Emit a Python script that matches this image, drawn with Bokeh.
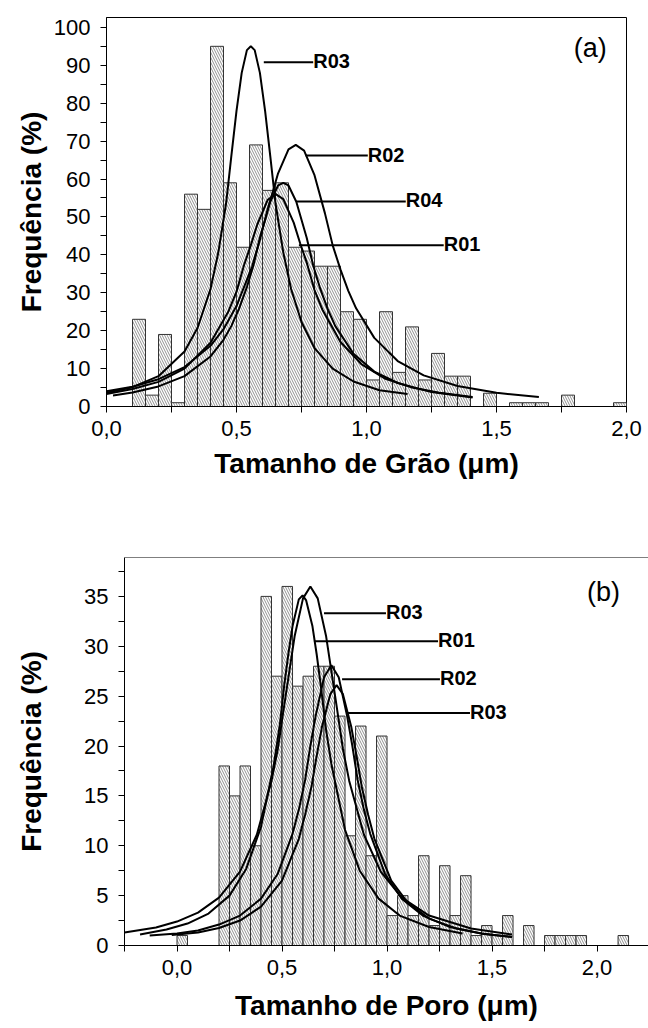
from bokeh.plotting import figure
from bokeh.models import Range1d, FixedTicker, CustomJSTickFormatter, Span
from bokeh.core.properties import value
from bokeh.embed import file_html
from bokeh.resources import INLINE

FONT = "Liberation Sans"
BIN_W = 0.05

# ---------------- (a) grain size ----------------
grain_bin_left = [0.10, 0.15, 0.20, 0.25, 0.30, 0.35, 0.40, 0.45, 0.50, 0.55,
                  0.60, 0.65, 0.70, 0.75, 0.80, 0.85, 0.90, 0.95, 1.00, 1.05,
                  1.10, 1.15, 1.20, 1.25, 1.30, 1.35, 1.45, 1.55, 1.60, 1.65,
                  1.75, 1.95]
grain_freq = [23, 3, 19, 1, 56, 52, 95, 59, 42, 69,
              57, 59, 42, 41, 37, 37, 25, 23, 7, 25,
              9, 21, 7, 14, 8, 8, 3.5, 1, 1, 1,
              3, 1]

grain_R03_x = [0.0, 0.1, 0.2, 0.3, 0.35, 0.4, 0.43, 0.46, 0.48, 0.5, 0.52, 0.54, 0.555,
               0.57, 0.59, 0.61, 0.63, 0.65, 0.68, 0.71, 0.75, 0.8, 0.87, 0.95, 1.05, 1.158]
grain_R03_y = [3.6, 5.1, 8.0, 14.5, 20.7, 31.0, 40.6, 53.6, 66.0, 78.0, 88.0, 94.0, 95.0,
               94.0, 88.0, 78.0, 66.0, 53.6, 40.6, 31.0, 22.3, 15.4, 10.0, 6.6, 4.3, 3.3]

grain_R02_x = [0.0, 0.1, 0.2, 0.3, 0.4, 0.45, 0.5, 0.56, 0.59, 0.62, 0.66, 0.7, 0.728,
               0.76, 0.8, 0.84, 0.87, 0.9, 0.93, 0.96, 1.03, 1.12, 1.22, 1.35, 1.5, 1.663]
grain_R02_y = [4.0, 5.2, 7.2, 10.4, 16.0, 20.4, 26.5, 36.9, 44.0, 52.0, 61.5, 67.8, 69.0,
               67.5, 61.0, 51.0, 42.5, 36.1, 30.5, 25.9, 18.1, 12.0, 8.2, 5.4, 3.6, 2.5]

grain_R04_x = [0.025, 0.1, 0.2, 0.3, 0.4, 0.45, 0.48, 0.51, 0.54, 0.565, 0.59, 0.63, 0.66, 0.68,
               0.7, 0.73, 0.77, 0.795, 0.82, 0.85, 0.88, 0.95, 1.03, 1.12, 1.25, 1.408]
grain_R04_y = [2.9, 3.7, 5.3, 8.0, 13.2, 17.6, 21.2, 25.8, 31.5, 37.2, 44.5, 54.0, 58.3, 59.0,
               58.3, 54.0, 44.5, 37.2, 31.5, 25.8, 21.2, 13.9, 9.2, 6.2, 3.8, 2.4]

grain_R01_x = [0.0, 0.1, 0.2, 0.3, 0.4, 0.47, 0.5, 0.53, 0.555, 0.58, 0.62, 0.651,
               0.68, 0.72, 0.745, 0.77, 0.8, 0.83, 0.9, 0.98, 1.07, 1.17, 1.28, 1.408]
grain_R01_y = [3.3, 4.6, 6.5, 10.0, 16.8, 25.2, 30.3, 37.5, 42.5, 48.0, 54.5, 56.0,
               54.7, 48.5, 43.0, 38.0, 30.7, 25.6, 17.0, 11.2, 7.4, 5.1, 3.6, 2.5]

grain_curve_names = ["R03", "R02", "R04", "R01"]

grain_x_ticks = [0.0, 0.5, 1.0, 1.5, 2.0]
grain_x_minor = [0.25, 0.75, 1.25, 1.75]
grain_x_labels = ["0,0", "0,5", "1,0", "1,5", "2,0"]
grain_y_ticks = [0, 10, 20, 30, 40, 50, 60, 70, 80, 90, 100]
grain_y_minor = [5, 15, 25, 35, 45, 55, 65, 75, 85, 95]
grain_y_labels = ["0", "10", "20", "30", "40", "50", "60", "70", "80", "90", "100"]

# ---------------- (b) pore size ----------------
pore_bin_left = [0.00, 0.20, 0.25, 0.30, 0.35, 0.40, 0.45, 0.50, 0.55, 0.60,
                 0.65, 0.70, 0.75, 0.80, 0.85, 0.90, 0.95, 1.00, 1.05, 1.10,
                 1.15, 1.20, 1.25, 1.30, 1.35, 1.40, 1.45, 1.50, 1.55, 1.65,
                 1.75, 1.80, 1.85, 1.90, 2.10]
pore_freq = [1, 18, 15, 18, 10, 35, 27, 36, 26, 27,
             28, 28, 23, 11, 22, 9, 21, 3, 5, 3,
             9, 2, 8, 3, 7, 1, 2, 1, 3, 2,
             1, 1, 1, 1, 1]

pore_R03a_x = [-0.25, -0.1, 0.0, 0.1, 0.2, 0.3, 0.38, 0.45, 0.48, 0.51, 0.535, 0.56, 0.6, 0.635,
               0.67, 0.71, 0.735, 0.76, 0.79, 0.82, 0.89, 0.97, 1.07, 1.2, 1.4, 1.595]
pore_R03a_y = [1.3, 1.8, 2.4, 3.3, 4.8, 7.4, 11.1, 16.5, 19.7, 24.0, 27.5, 31.0, 34.8, 36.0,
               34.8, 31.0, 27.5, 24.0, 19.7, 16.5, 11.1, 7.4, 4.8, 3.0, 1.7, 1.1]

pore_R01_x = [-0.176, -0.05, 0.05, 0.15, 0.25, 0.33, 0.4, 0.46, 0.49, 0.51, 0.53, 0.55, 0.58, 0.598,
              0.615, 0.645, 0.665, 0.685, 0.71, 0.735, 0.8, 0.87, 0.96, 1.06, 1.2, 1.36]
pore_R01_y = [1.1, 1.6, 2.2, 3.2, 5.0, 7.7, 11.9, 18.0, 22.2, 26.0, 29.2, 32.0, 34.7, 35.1,
              34.6, 32.0, 29.2, 26.0, 21.6, 18.2, 11.6, 7.5, 4.7, 3.0, 1.85, 1.2]

pore_R02_x = [-0.13, 0.0, 0.1, 0.2, 0.3, 0.4, 0.48, 0.55, 0.58, 0.61, 0.635, 0.66, 0.7, 0.735,
              0.77, 0.81, 0.835, 0.86, 0.89, 0.92, 0.99, 1.07, 1.17, 1.3, 1.45, 1.595]
pore_R02_y = [1.0, 1.2, 1.5, 2.1, 3.0, 4.7, 7.2, 11.2, 13.6, 16.6, 20.0, 23.0, 26.9, 28.1,
              26.9, 23.0, 20.0, 16.6, 13.6, 11.2, 7.2, 4.7, 3.0, 1.85, 1.2, 0.85]

pore_R03b_x = [-0.025, 0.1, 0.2, 0.3, 0.4, 0.5, 0.58, 0.61, 0.64, 0.665, 0.69, 0.73, 0.76,
               0.79, 0.83, 0.855, 0.88, 0.91, 0.94, 1.02, 1.1, 1.2, 1.33, 1.46, 1.595]
pore_R03b_y = [1.05, 1.3, 1.75, 2.5, 3.9, 6.5, 10.7, 13.1, 15.9, 19.0, 21.9, 25.2, 26.1,
               25.2, 21.9, 19.0, 15.9, 13.1, 10.7, 6.5, 4.25, 2.7, 1.7, 1.15, 0.85]

pore_curve_names = ["R03", "R01", "R02", "R03"]

pore_x_ticks = [0.0, 0.5, 1.0, 1.5, 2.0]
pore_x_minor = [-0.25, 0.25, 0.75, 1.25, 1.75]
pore_x_labels = ["0,0", "0,5", "1,0", "1,5", "2,0"]
pore_y_ticks = [0, 5, 10, 15, 20, 25, 30, 35]
pore_y_minor = [2.5, 7.5, 12.5, 17.5, 22.5, 27.5, 32.5, 37.5]
pore_y_labels = ["0", "5", "10", "15", "20", "25", "30", "35"]


def tick_formatter(tvals, tlabels):
    return CustomJSTickFormatter(args=dict(tv=tvals, tl=tlabels), code="""
        for (let i = 0; i < tv.length; i++) {
            if (Math.abs(tv[i] - tick) < 1e-6) { return tl[i]; }
        }
        return "";
    """)


def style_axis(ax, label_standoff, title_standoff):
    ax.axis_line_color = "black"
    ax.axis_line_width = 1
    ax.major_tick_line_color = "black"
    ax.minor_tick_line_color = "black"
    ax.major_tick_out = 6
    ax.major_tick_in = 0
    ax.minor_tick_out = 6
    ax.minor_tick_in = 0
    ax.major_label_text_font = FONT
    ax.major_label_text_font_size = "22px"
    ax.major_label_text_color = "black"
    ax.major_label_standoff = label_standoff
    ax.axis_label_text_font = FONT
    ax.axis_label_text_font_size = "28px"
    ax.axis_label_text_font_style = "bold"
    ax.axis_label_text_color = "black"
    ax.axis_label_standoff = title_standoff


def make_panel(xr, yr, w, h, mbl, mbt, mbr, mbb,
               xt, xm, xl, yt, ym, yl, xtitle, ytitle, xstand, ystand):
    p = figure(output_backend="svg", toolbar_location=None,
               x_range=Range1d(*xr), y_range=Range1d(*yr),
               width=w, height=h,
               min_border_left=mbl, min_border_top=mbt,
               min_border_right=mbr, min_border_bottom=mbb)
    p.grid.visible = False
    p.background_fill_color = "white"
    p.border_fill_color = "white"
    p.outline_line_color = "black"
    p.outline_line_width = 1
    p.xaxis.ticker = FixedTicker(ticks=xt, minor_ticks=xm)
    p.xaxis.formatter = tick_formatter(xt, xl)
    p.yaxis.ticker = FixedTicker(ticks=yt, minor_ticks=ym)
    p.yaxis.formatter = tick_formatter(yt, yl)
    p.xaxis.axis_label = xtitle
    p.yaxis.axis_label = ytitle
    style_axis(p.xaxis[0], 8, xstand)
    style_axis(p.yaxis[0], 10, ystand)
    return p


def draw_bars(p, lefts, freqs):
    centers = [l + BIN_W / 2 for l in lefts]
    p.vbar(x=centers, width=BIN_W, bottom=0, top=freqs,
           fill_color="white", line_color="#333333", line_width=1,
           hatch_pattern="\\", hatch_scale=5, hatch_weight=0.6,
           hatch_color="#444444")


def draw_curves(p, curves):
    for xs, ys in curves:
        p.line(xs, ys, line_color="black", line_width=2)


def draw_leaders(p, leaders, names):
    for (x0, x1, y), name in zip(leaders, names):
        p.segment(x0=[x0], y0=[y], x1=[x1], y1=[y], line_color="black", line_width=2)
        p.text(x=[x1], y=[y], text=[name], text_font=value(FONT),
               text_font_style="bold", text_font_size="20px",
               text_baseline="alphabetic", text_align="left", text_color="black",
               y_offset=-1)


# ---------- panel (a): frame 520 x 389 at (106, 17)
p1 = make_panel((0.0, 2.0), (0.0, 102.6), 648, 500, 106, 17, 22, 94,
                grain_x_ticks, grain_x_minor, grain_x_labels,
                grain_y_ticks, grain_y_minor, grain_y_labels,
                "Tamanho de Grão (μm)", "Frequência (%)", 9, 4)
draw_bars(p1, grain_bin_left, grain_freq)
draw_curves(p1, [(grain_R03_x, grain_R03_y), (grain_R02_x, grain_R02_y),
                 (grain_R04_x, grain_R04_y), (grain_R01_x, grain_R01_y)])
draw_leaders(p1, [(0.605, 0.795, 90.8), (0.766, 1.005, 66.2),
                  (0.731, 1.151, 54.1), (0.740, 1.297, 42.5)], grain_curve_names)
p1.text(x=[1.797], y=[94.5], text=["(a)"], text_font=value(FONT),
        text_font_size="27px", text_baseline="middle", text_align="left",
        text_color="black")

# ---------- panel (b): frame 524 x 388 at (124, 557), cut at the right edge
p2 = make_panel((-0.25, 2.245), (0.0, 38.9), 648, 524, 124, 57, 0, 79,
                pore_x_ticks, pore_x_minor, pore_x_labels,
                pore_y_ticks, pore_y_minor, pore_y_labels,
                "Tamanho de Poro (μm)", "Frequência (%)", 12, 34)
p2.outline_line_color = None
p2.add_layout(Span(location=38.9, dimension="width", line_color="black", line_width=1))
draw_bars(p2, pore_bin_left, pore_freq)
draw_curves(p2, [(pore_R03a_x, pore_R03a_y), (pore_R01_x, pore_R01_y),
                 (pore_R02_x, pore_R02_y), (pore_R03b_x, pore_R03b_y)])
draw_leaders(p2, [(0.70, 0.995, 33.3), (0.652, 1.243, 30.5),
                  (0.786, 1.252, 26.7), (0.814, 1.395, 23.3)], pore_curve_names)
p2.text(x=[1.952], y=[35.4], text=["(b)"], text_font=value(FONT),
        text_font_size="27px", text_baseline="middle", text_align="left",
        text_color="black")

open("out.html", "w").write(file_html([p1, p2], INLINE))
